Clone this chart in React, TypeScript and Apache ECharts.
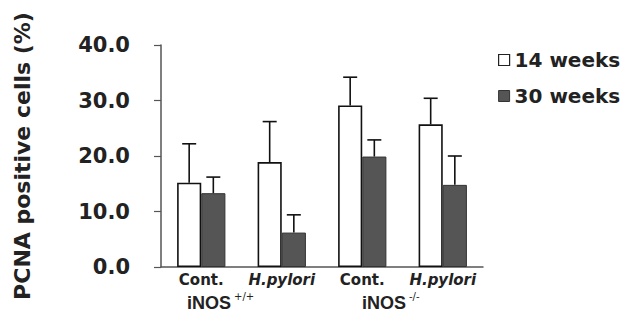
import React, { useEffect, useRef } from "react";
import * as echarts from "echarts";

const categories = ["Cont.", "H.pylori", "Cont.", "H.pylori"];
const groupLabels = ["iNOS", "iNOS"];
const groupSup = ["+/+", "-/-"];
const weeks14 = [15.2, 18.9, 29.1, 25.7];
const weeks14Sd = [7.0, 7.3, 5.1, 4.7];
const weeks30 = [13.3, 6.2, 19.9, 14.8];
const weeks30Sd = [2.9, 3.2, 3.0, 5.2];
const seriesNames = ["14 weeks", "30 weeks"];
const yTicks = { min: 0, max: 40, interval: 10 };

const BW = 0.3;
const FONT = "DejaVu Sans";

function errorSeries(means: number[], sds: number[], side: number) {
  return {
    type: "custom",
    z: 5,
    silent: true,
    encode: { x: 0, y: 1 },
    data: means.map((m, i) => [i, m, sds[i]]),
    renderItem: (params: any, api: any) => {
      const idx = api.value(0);
      const mean = api.value(1);
      const sd = api.value(2);
      const base = api.coord([idx, mean]);
      const top = api.coord([idx, mean + sd]);
      const band = api.size([1, 0])[0];
      const x = base[0] + (side * band * BW) / 2;
      const style = { stroke: "#111", lineWidth: 1.6 };
      return {
        type: "group",
        children: [
          { type: "line", shape: { x1: x, y1: base[1], x2: x, y2: top[1] }, style },
          { type: "line", shape: { x1: x - 7, y1: top[1], x2: x + 7, y2: top[1] }, style },
        ],
      };
    },
  };
}

export default function App() {
  const ref = useRef<HTMLDivElement>(null);
  useEffect(() => {
    const chart = echarts.init(ref.current!, null, { renderer: "svg" });
    chart.setOption({
      animation: false,
      backgroundColor: "#fff",
      grid: { left: 161, right: 138, top: 45, bottom: 54 },
      legend: {
        orient: "vertical",
        left: 493,
        top: 45,
        itemWidth: 11,
        itemHeight: 11,
        itemGap: 16,
        icon: "rect",
        textStyle: { fontFamily: FONT, fontWeight: "bold", fontSize: 20, color: "#222" },
        data: [
          { name: seriesNames[0], itemStyle: { color: "#fff", borderColor: "#222", borderWidth: 1.2 } },
          { name: seriesNames[1], itemStyle: { color: "#555", borderColor: "#333", borderWidth: 1 } },
        ],
      },
      xAxis: {
        type: "category",
        data: categories,
        axisLine: { lineStyle: { color: "#555", width: 1.5 } },
        axisTick: { show: false },
        axisLabel: {
          margin: 5,
          formatter: (v: string) => (v.indexOf("pylori") >= 0 ? `{i|${v}}` : `{b|${v}}`),
          rich: {
            b: { fontFamily: FONT, fontWeight: "bold", fontSize: 15, color: "#222" },
            i: { fontFamily: FONT, fontWeight: "bold", fontStyle: "italic", fontSize: 15, color: "#222" },
          },
        },
      },
      yAxis: {
        type: "value",
        min: yTicks.min,
        max: yTicks.max,
        interval: yTicks.interval,
        name: "PCNA positive cells (%)",
        nameLocation: "middle",
        nameGap: 128,
        nameTextStyle: { fontFamily: FONT, fontWeight: "bold", fontSize: 22, color: "#222" },
        axisLine: { show: true, lineStyle: { color: "#555", width: 1.5 } },
        axisTick: { show: true, inside: false, length: 7, lineStyle: { color: "#555", width: 1.2 } },
        splitLine: { show: false },
        axisLabel: {
          margin: 31,
          formatter: (v: number) => v.toFixed(1),
          fontFamily: FONT,
          fontWeight: "bold",
          fontSize: 21,
          color: "#222",
        },
      },
      series: [
        {
          name: seriesNames[0],
          type: "bar",
          data: weeks14,
          barWidth: `${BW * 100}%`,
          barGap: "0%",
          itemStyle: { color: "#fff", borderColor: "#111", borderWidth: 1.6 },
        },
        {
          name: seriesNames[1],
          type: "bar",
          data: weeks30,
          barWidth: `${BW * 100}%`,
          barGap: "0%",
          itemStyle: { color: "#555", borderColor: "#333", borderWidth: 1 },
        },
        errorSeries(weeks14, weeks14Sd, -1),
        errorSeries(weeks30, weeks30Sd, 1),
      ],
      graphic: [
        {
          type: "text",
          x: 187,
          y: 303,
          style: {
            text: groupLabels[0],
            fontFamily: "Liberation Sans",
            fontWeight: "bold",
            fontSize: 18,
            fill: "#222",
            verticalAlign: "middle",
          },
        },
        {
          type: "text",
          x: 234,
          y: 296,
          style: { text: groupSup[0], fontFamily: FONT, fontSize: 10, fill: "#222", verticalAlign: "middle" },
        },
        {
          type: "text",
          x: 362,
          y: 303,
          style: {
            text: groupLabels[1],
            fontFamily: "Liberation Sans",
            fontWeight: "bold",
            fontSize: 18,
            fill: "#222",
            verticalAlign: "middle",
          },
        },
        {
          type: "text",
          x: 409,
          y: 296,
          style: { text: groupSup[1], fontFamily: FONT, fontSize: 10, fill: "#222", verticalAlign: "middle" },
        },
      ],
    });
    return () => chart.dispose();
  }, []);
  return <div ref={ref} style={{ width: 621, height: 321, position: "absolute", left: 0, top: 0 }} />;
}
